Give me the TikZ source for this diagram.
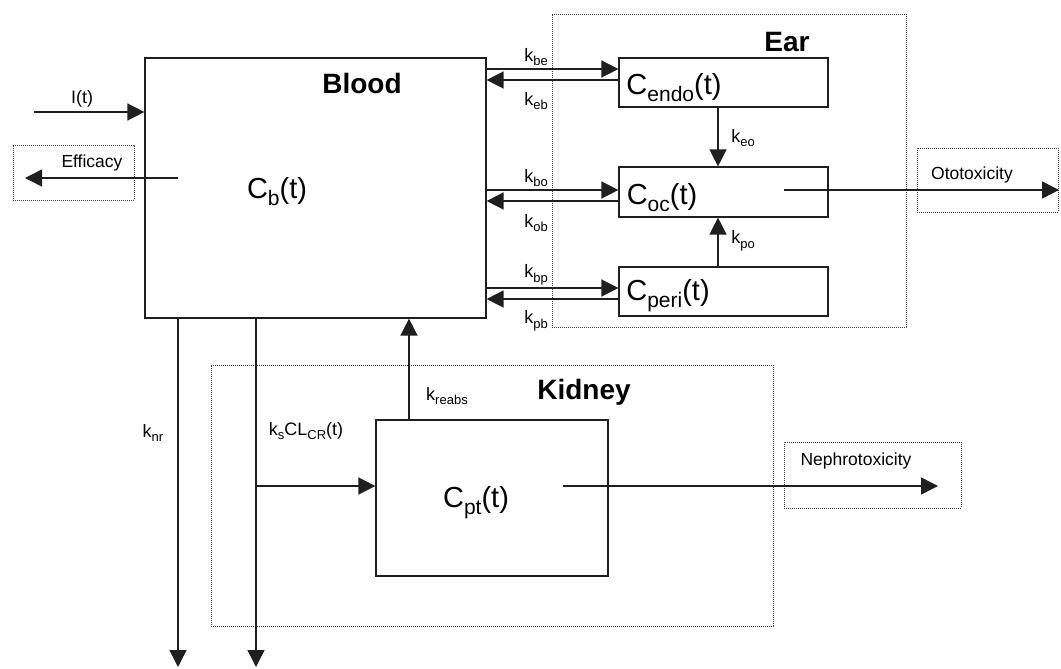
\documentclass[tikz,border=0pt]{standalone}
\usepackage{fontspec}
\setmainfont{Liberation Sans}
\usetikzlibrary{arrows.meta}
\newcommand\ksub[1]{\raisebox{-4.5pt}{\fontsize{13}{13}\selectfont #1}}
\newcommand\csub[1]{\raisebox{-7pt}{\fontsize{21}{21}\selectfont #1}}
\begin{document}
\begin{tikzpicture}[x=1pt,y=-1pt,
  comp/.style={draw=black!88, line width=1.2pt, inner sep=0pt},
  zone/.style={draw=black!75, line width=0.9pt, dash pattern=on 0.9pt off 1.1pt, inner sep=0pt},
  arr/.style={draw=black!88, line width=1.5pt, -{Triangle[length=17pt,width=17pt]}},
  big/.style={font=\fontsize{29}{34}\selectfont, inner sep=0pt},
  title/.style={font=\bfseries\fontsize{28}{34}\selectfont, inner sep=0pt},
  rate/.style={font=\fontsize{18}{20}\selectfont, inner sep=0pt},
  outlbl/.style={font=\fontsize{17.5}{20}\selectfont, inner sep=0pt}]
\useasboundingbox (0,0) rectangle (1061,669);

% zones (dotted)
\node[zone, minimum width=354pt, minimum height=313pt] (ear) at (729,170.5) {};
\node[zone, minimum width=562pt, minimum height=261pt] (kidney) at (492,495.5) {};
\node[zone, minimum width=121pt, minimum height=55pt] (effbox) at (73.5,172.5) {};
\node[zone, minimum width=141pt, minimum height=64pt] (otobox) at (987.5,180) {};
\node[zone, minimum width=177pt, minimum height=66pt] (nephbox) at (872.5,475) {};

% compartments
\node[comp, minimum width=341pt, minimum height=260pt] (blood) at (315.5,188) {};
\node[comp, minimum width=209pt, minimum height=49pt] (endo) at (723.5,82.5) {};
\node[comp, minimum width=209pt, minimum height=50pt] (oc) at (723.5,192) {};
\node[comp, minimum width=209pt, minimum height=49pt] (peri) at (723.5,291.5) {};
\node[comp, minimum width=232pt, minimum height=156pt] (cpt) at (492,498) {};

% texts
\node[title] (bloodlbl) at (362,83) {Blood};
\node[title] (earlbl) at (787,42) {Ear};
\node[title] (kidlbl) at (584,392) {Kidney};
\node[big] (cb) at (277,192) {C\csub{b}(t)};
\node[big] (cendo) at (674,88) {C\csub{endo}(t)};
\node[big] (coc) at (662,198) {C\csub{oc}(t)};
\node[big] (cperi) at (668,296) {C\csub{peri}(t)};
\node[big] (cptlbl) at (476,503) {C\csub{pt}(t)};

% free ends
\coordinate (iin) at (34,112);
\coordinate (effstart) at (178,178);
\coordinate (efftip) at (25,178);
\coordinate (ocout) at (784,190);
\coordinate (ototip) at (1059,190);
\coordinate (knrtip) at (178,667);
\coordinate (kstip) at (256,667);
\coordinate (branch) at (256,486);
\coordinate (cptout) at (563,486);
\coordinate (nephtip) at (938,486);

% connectors
\draw[arr] (iin) -- (blood.west |- 0,112);
\draw[arr] (effstart) -- (efftip);
\draw[arr] (blood.east |- 0,69) -- (endo.west |- 0,69);
\draw[arr] (endo.west |- 0,80) -- (blood.east |- 0,80);
\draw[arr] (blood.east |- 0,190) -- (oc.west |- 0,190);
\draw[arr] (oc.west |- 0,201) -- (blood.east |- 0,201);
\draw[arr] (blood.east |- 0,288) -- (peri.west |- 0,288);
\draw[arr] (peri.west |- 0,299) -- (blood.east |- 0,299);
\draw[arr] (endo.south -| 718,0) -- (oc.north -| 718,0);
\draw[arr] (peri.north -| 718,0) -- (oc.south -| 718,0);
\draw[arr] (ocout) -- (ototip);
\draw[arr] (blood.south -| 178,0) -- (knrtip);
\draw[arr] (blood.south -| 256,0) -- (kstip);
\draw[arr] (branch) -- (cpt.west |- 0,486);
\draw[arr] (cpt.north -| 409,0) -- (blood.south -| 409,0);
\draw[arr] (cptout) -- (nephtip);

% labels
\node[rate] (lit) at (82,99) {I(t)};
\node[outlbl] (lef) at (92,163) {Efficacy};
\node[outlbl] (lot) at (972,175) {Ototoxicity};
\node[outlbl] (lne) at (856,461) {Nephrotoxicity};
\node[rate] (lbe) at (536,57) {k\ksub{be}};
\node[rate] (leb) at (536,101) {k\ksub{eb}};
\node[rate] (lbo) at (536,178) {k\ksub{bo}};
\node[rate] (lob) at (536,223) {k\ksub{ob}};
\node[rate] (lbp) at (536,275) {k\ksub{bp}};
\node[rate] (lpb) at (536,321) {k\ksub{pb}};
\node[rate] (leo) at (743,138) {k\ksub{eo}};
\node[rate] (lpo) at (743,241) {k\ksub{po}};
\node[rate] (lnr) at (153,433) {k\ksub{nr}};
\node[rate] (lks) at (306,431) {k\ksub{s}CL\ksub{CR}(t)};
\node[rate] (lre) at (447,396) {k\ksub{reabs}};
\end{tikzpicture}
\end{document}
